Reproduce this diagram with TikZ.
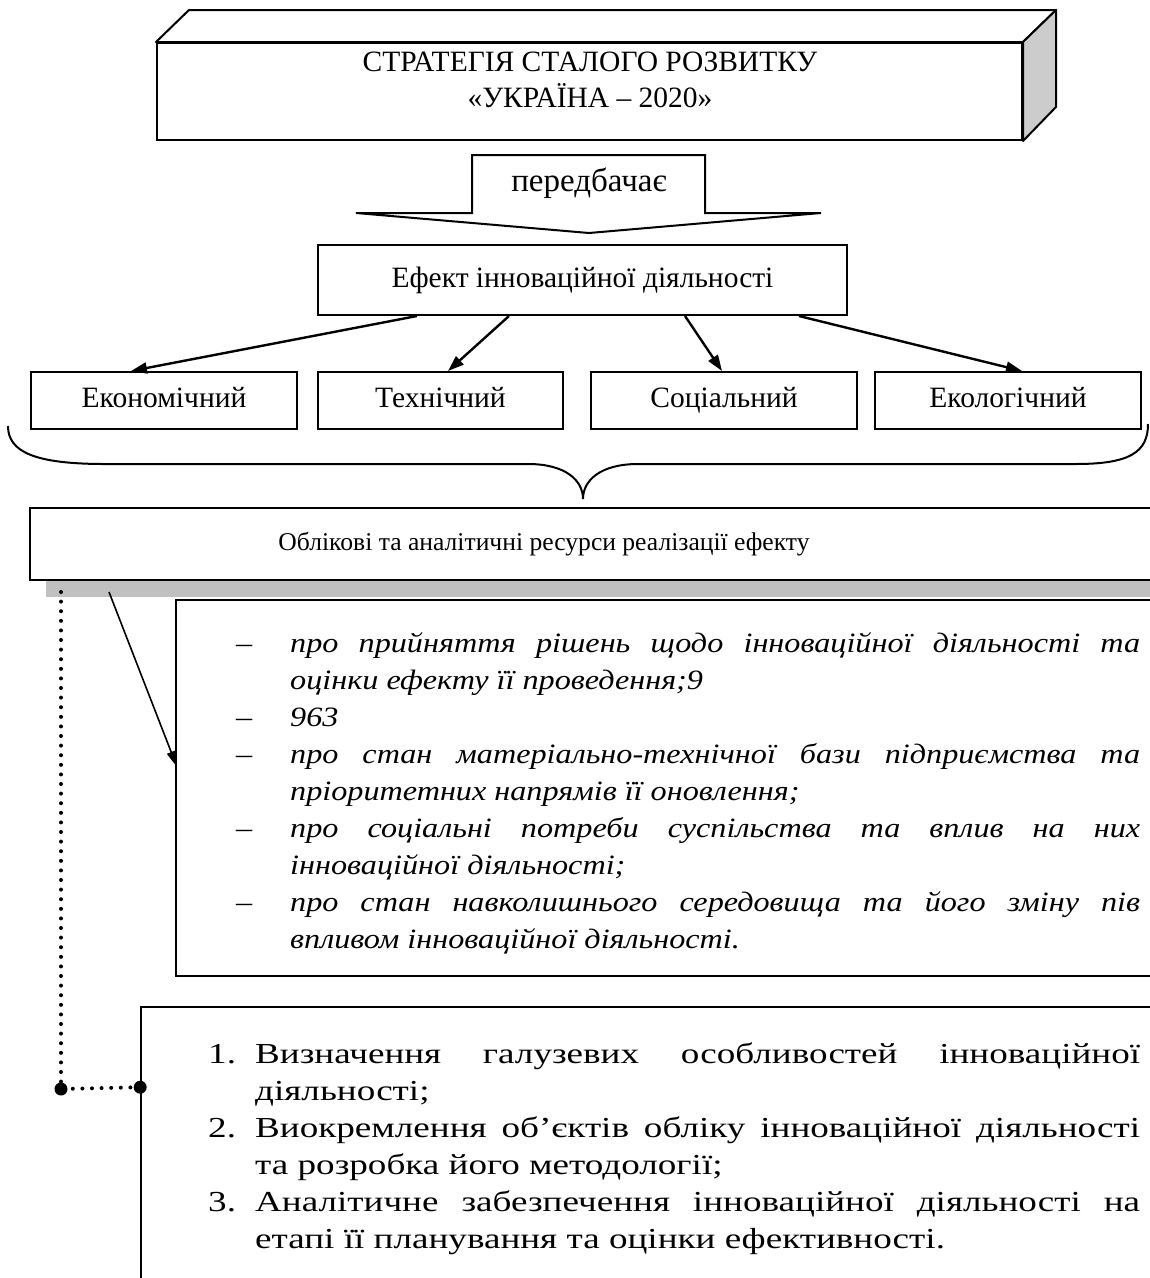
\documentclass[tikz,border=0pt]{standalone}
\usepackage{fontspec}
\setmainfont{Liberation Serif}
\newfontfamily\listserif[FakeStretch=1.15]{Liberation Serif}
\newfontfamily\wideserif[FakeStretch=1.28]{Liberation Serif}
\usetikzlibrary{arrows.meta,calc}
\definecolor{sideface}{HTML}{CCCCCC}
\definecolor{shadowgray}{HTML}{C0C0C0}
\begin{document}
\begin{tikzpicture}[x=1pt,y=-1pt,
  box/.style={draw, line width=2pt, fill=white, inner sep=0pt},
  thinbox/.style={draw, line width=1.6pt, fill=white, inner sep=0pt},
  lbl/.style={font=\fontsize{29.5}{36}\selectfont, inner sep=0pt, align=center},
  kindlbl/.style={lbl, text height=20pt, text depth=6pt},
  smalllbl/.style={font=\fontsize{25.6}{30}\selectfont, inner sep=0pt},
  arr/.style={-{Triangle[length=16pt,width=11pt]}, line width=2.4pt},
  thinarr/.style={-{Triangle[length=16pt,width=9pt]}, line width=1.6pt},
  dotline/.style={line width=4pt, line cap=round, dash pattern=on 0pt off 9.6pt},
  bigdot/.style={circle, fill=black, inner sep=0pt, minimum size=13pt},
  italist/.style={font=\listserif\fontsize{28}{37}\selectfont\itshape, inner sep=0pt, align=left, anchor=north west},
  numlist/.style={font=\wideserif\fontsize{29}{37}\selectfont, inner sep=0pt, align=left, anchor=north west}
]
\useasboundingbox (0,0) rectangle (1150,1278);
\clip (0,0) rectangle (1150,1278);

% --- strategy block drawn as a 3D bar ---
\node[box, minimum width=865pt, minimum height=97pt] (strat) at (589.5,91.5) {};
\draw[line width=2pt, fill=white, line join=round]
  (strat.north west) -- ++(33,-32) -- ($(strat.north east)+(33,-32)$) -- (strat.north east) -- cycle;
\filldraw[line width=2pt, fill=sideface, line join=round]
  (strat.north east) -- ++(33,-32) -- ++(0,97) -- (strat.south east) -- cycle;
\node[lbl] (strattxt) at (590,80) {СТРАТЕГІЯ СТАЛОГО РОЗВИТКУ\\«УКРАЇНА – 2020»};

% --- block arrow "передбачає" ---
\coordinate (tip) at (589,233);
\draw[line width=2pt, fill=white, line join=miter]
  ($(tip)+(-117,-78)$) -- ($(tip)+(116,-78)$) -- ($(tip)+(116,-20)$) -- ($(tip)+(232,-20)$)
  -- (tip) -- ($(tip)+(-233,-20)$) -- ($(tip)+(-117,-20)$) -- cycle;
\node[lbl, font=\fontsize{33}{38}\selectfont] (pred) at (589,183) {передбачає};

% --- effect and its four kinds ---
\node[box, minimum width=529pt, minimum height=70pt, kindlbl] (eff) at (582.5,280) {Ефект інноваційної діяльності};
\node[box, minimum width=266pt, minimum height=57pt, kindlbl] (econ) at (164,400.5) {Економічний};
\node[box, minimum width=245pt, minimum height=57pt, kindlbl] (tech) at (440.5,400.5) {Технічний};
\node[box, minimum width=266pt, minimum height=57pt, kindlbl] (soc) at (724,400.5) {Соціальний};
\node[box, minimum width=266pt, minimum height=57pt, kindlbl] (ecol) at (1008,400.5) {Екологічний};

\draw[arr] ($(eff.south west)+(100,0)$) -- ($(econ.north west)+(101,0)$);
\draw[arr] ($(eff.south west)+(192,0)$) -- ($(tech.north west)+(131,0)$);
\draw[arr] ($(eff.south west)+(368,0)$) -- ($(soc.north west)+(132,0)$);
\draw[arr] ($(eff.south west)+(482,0)$) -- ($(ecol.north west)+(148,0)$);

% --- curly brace under the four kinds ---
\draw[line width=2pt]
  (8,426) .. controls (8,452) and (35,464) .. (105,464) -- (528,464)
  .. controls (565,464) and (583,480) .. (583,499)
  .. controls (583,480) and (601,464) .. (638,464) -- (1076,464)
  .. controls (1130,464) and (1148,452) .. (1148,424);

% --- accounting and analytical resources ---
\fill[shadowgray] (46,580) rectangle (1165,597);
\node[box, minimum width=1135pt, minimum height=72pt] (res) at (597.5,544) {};
\node[smalllbl] (restxt) at (544,544) {Облікові та аналітичні ресурси реалізації ефекту};

% --- information list ---
\node[box, minimum width=989pt, minimum height=376pt] (facts) at (670.5,788) {};
\node[italist] (factstxt) at (290,632) {%
\llap{–\hspace{38pt}}\makebox[850pt][s]{про прийняття рішень щодо інноваційної діяльності та}\\
оцінки ефекту її проведення;9\\
\llap{–\hspace{38pt}}963\\
\llap{–\hspace{38pt}}\makebox[850pt][s]{про стан матеріально-технічної бази підприємства та}\\
пріоритетних напрямів її оновлення;\\
\llap{–\hspace{38pt}}\makebox[850pt][s]{про соціальні потреби суспільства та вплив на них}\\
інноваційної діяльності;\\
\llap{–\hspace{38pt}}\makebox[850pt][s]{про стан навколишнього середовища та його зміну пів}\\
впливом інноваційної діяльності.};

% --- tasks ---
\node[thinbox, minimum width=1024pt, minimum height=293pt] (steps) at (653,1153.5) {};
\node[numlist] (stepstxt) at (255,1043) {%
\llap{\makebox[47pt][l]{1.}}\makebox[885pt][s]{Визначення галузевих особливостей інноваційної}\\
діяльності;\\
\llap{\makebox[47pt][l]{2.}}\makebox[885pt][s]{Виокремлення об’єктів обліку інноваційної діяльності}\\
та розробка його методології;\\
\llap{\makebox[47pt][l]{3.}}\makebox[885pt][s]{Аналітичне забезпечення інноваційної діяльності на}\\
етапі її планування та оцінки ефективності.};

% --- connectors from the resources block ---
\draw[thinarr] ($(res.south west)+(80,11)$) -- ($(facts.north west)+(2,168)$);
\coordinate (dotstart) at ($(res.south west)+(32,11)$);
\node[bigdot] (dotA) at ($(dotstart)+(0,497)$) {};
\node[bigdot] (dotB) at ($(steps.north west)+(0,81)$) {};
\draw[dotline] (dotstart) -- (dotA.center) -- (dotB.center);
\end{tikzpicture}
\end{document}
